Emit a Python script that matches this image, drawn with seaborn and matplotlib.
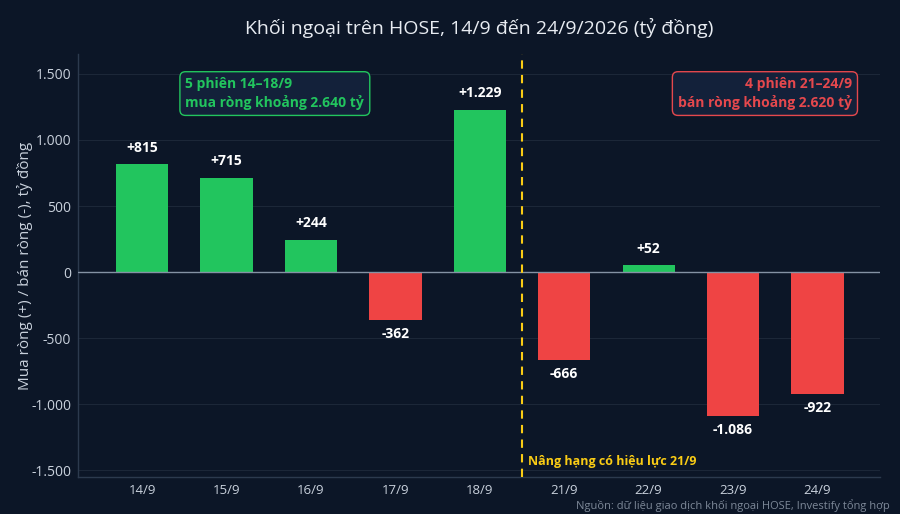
import matplotlib
matplotlib.use("Agg")
import matplotlib.pyplot as plt
import seaborn as sns
import pandas as pd
from matplotlib.ticker import FuncFormatter

days = ["14/9", "15/9", "16/9", "17/9", "18/9", "21/9", "22/9", "23/9", "24/9"]
net_values = [815, 715, 244, -362, 1229, -666, 52, -1086, -922]
value_labels = ["+815", "+715", "+244", "-362", "+1.229", "-666", "+52", "-1.086", "-922"]
yticks = [-1500, -1000, -500, 0, 500, 1000, 1500]

BG = "#0c1627"
GREEN = "#22c55e"
RED = "#ef4444"
YELLOW = "#facc15"
TXT = "#c9d1dc"

sns.set_theme(style="dark")
plt.rcParams["font.family"] = ["Open Sans", "Noto Sans", "DejaVu Sans"]

df = pd.DataFrame({"day": days, "value": net_values})
df["sign"] = ["pos" if v >= 0 else "neg" for v in net_values]

fig = plt.figure(figsize=(9, 5.14), dpi=100, facecolor=BG)
ax = fig.add_axes([78/900, 1-477/514, 802/900, 423/514])
ax.set_facecolor(BG)

sns.barplot(data=df, x="day", y="value", hue="sign", palette={"pos": GREEN, "neg": RED},
            dodge=False, width=0.62, legend=False, ax=ax, saturation=1,
            edgecolor="none", linewidth=0)

ax.set_ylim(-1550, 1650)
ax.set_xlim(-0.76, 8.74)
ax.set_yticks(yticks)
ax.yaxis.set_major_formatter(FuncFormatter(lambda v, p: f"{int(v):,}".replace(",", ".")))
ax.grid(axis="y", color="#1c2738", linewidth=0.8)
ax.grid(axis="x", visible=False)
ax.set_axisbelow(True)
ax.axhline(0, color="#8592a4", linewidth=1.0, zorder=3)

for s in ["top", "right"]:
    ax.spines[s].set_visible(False)
for s in ["left", "bottom"]:
    ax.spines[s].set_visible(True)
    ax.spines[s].set_color("#2c3a4e")
    ax.spines[s].set_linewidth(1)

ax.tick_params(axis="both", labelsize=10, length=3, width=0.8, pad=2)
ax.tick_params(axis="x", colors="#2c3a4e", labelcolor=TXT, labelsize=9.5)
ax.tick_params(axis="y", colors="#2c3a4e", labelcolor=TXT)
ax.set_xlabel("")
ax.set_ylabel("Mua ròng (+) / bán ròng (-), tỷ đồng", color=TXT, fontsize=11)
ax.yaxis.set_label_coords(-0.056, 0.5)

for i, (v, lab) in enumerate(zip(net_values, value_labels)):
    if v >= 0:
        ax.text(i, v + 125, lab, ha="center", va="center", color="white",
                fontsize=10, fontweight="bold")
    else:
        ax.text(i, v - 105, lab, ha="center", va="center", color="white",
                fontsize=10, fontweight="bold")

ax.axvline(4.5, color=YELLOW, linestyle=(0, (4, 3)), linewidth=1.5, zorder=4)
ax.text(4.57, -1430, "Nâng hạng có hiệu lực 21/9", color=YELLOW, fontsize=9,
        fontweight="bold", ha="left", va="center")

ax.text(0.134, 0.945, "5 phiên 14–18/9\nmua ròng khoảng 2.640 tỷ", transform=ax.transAxes,
        ha="left", va="top", color=GREEN, fontsize=10, fontweight="bold", linespacing=1.3,
        bbox=dict(boxstyle="round,pad=0.4,rounding_size=0.4", facecolor="#13213a",
                  edgecolor=GREEN, linewidth=1))
ax.text(0.965, 0.945, "4 phiên 21–24/9\nbán ròng khoảng 2.620 tỷ", transform=ax.transAxes,
        ha="right", va="top", color="#e5484d", fontsize=10, fontweight="bold", linespacing=1.3,
        multialignment="right",
        bbox=dict(boxstyle="round,pad=0.4,rounding_size=0.4", facecolor="#13213a",
                  edgecolor="#e5484d", linewidth=1))

fig.text(479/900, 1-28/514, "Khối ngoại trên HOSE, 14/9 đến 24/9/2026 (tỷ đồng)", ha="center",
         va="center", color="#e8ecf2", fontsize=14)
fig.text(890/900, 1-506/514, "Nguồn: dữ liệu giao dịch khối ngoại HOSE, Investify tổng hợp",
         ha="right", va="center", color="#7d8898", fontsize=8)

fig.savefig("out.png", dpi=100, facecolor=BG)
